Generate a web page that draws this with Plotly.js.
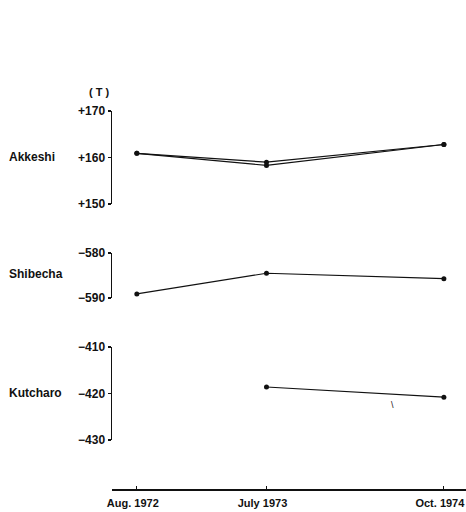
<!DOCTYPE html>
<html><head><meta charset="utf-8">
<script src="https://cdn.plot.ly/plotly-3.0.1.min.js"></script>
<style>html,body{margin:0;padding:0;background:#fff;}#chart{width:466px;height:512px;}</style>
</head><body><div id="chart"></div>
<script>
// ---- data ----
const dates = ["1972-08-15", "1973-07-15", "1974-10-15"];
const dateLabels = ["Aug. 1972", "July 1973", "Oct. 1974"];
const stations = ["Akkeshi", "Shibecha", "Kutcharo"];
const akkeshiA = [160.9, 159.0, 162.8];
const akkeshiB = [160.9, 158.3, 162.8];
const shibecha = [-589.1, -584.5, -585.7];
const kutcharo = [null, -418.6, -420.8];
const akkTicks = [150, 160, 170];
const akkTickText = ["+150", "+160", "+170"];
const shiTicks = [-590, -580];
const shiTickText = ["\u2212590", "\u2212580"];
const kutTicks = [-430, -420, -410];
const kutTickText = ["\u2212430", "\u2212420", "\u2212410"];
const unitLabel = "( T )";

const FONT = "Liberation Sans, Arial, sans-serif";
const line = {color: "#111", width: 1.2};
const marker = {color: "#111", size: 5};
function tr(y, ax) {
  return {x: dates, y: y, xaxis: "x", yaxis: ax, mode: "lines+markers",
          line: line, marker: marker, connectgaps: false, hoverinfo: "skip"};
}
const data = [
  tr(akkeshiA, "y"), tr(akkeshiB, "y"),
  tr(shibecha, "y2"),
  tr(kutcharo, "y3")
];

function yax(range, dom, tv, tt) {
  return {range: range, domain: dom, anchor: "x", showgrid: false, zeroline: false,
    showline: true, linecolor: "#111", linewidth: 1.5,
    tickmode: "array", tickvals: tv, ticktext: tt.map(s => "<b>" + s + "</b>"),
    ticks: "outside", ticklen: 3, tickcolor: "#111", tickwidth: 1.2,
    tickfont: {family: FONT, size: 12, color: "#111"}, fixedrange: true};
}
function capAx(range, dom, over, tv) {
  return {range: range, domain: dom, anchor: "x", overlaying: over, showgrid: false,
    zeroline: false, showline: false, tickmode: "array", tickvals: [tv[0], tv[tv.length-1]],
    ticks: "inside", ticklen: 3, tickcolor: "#111", tickwidth: 1.5, showticklabels: false};
}
const d1 = [0.7326, 0.9717], d2 = [0.4910, 0.6067], d3 = [0.1260, 0.3650];
function lab(text, x, y, size) {
  return {text: text, xref: "paper", yref: "paper", x: x, y: y, xanchor: "left", yanchor: "middle",
    showarrow: false, font: {family: FONT, size: size, color: "#111"}};
}
const layout = {
  width: 466, height: 512,
  margin: {l: 112, r: 0, t: 100, b: 23},
  paper_bgcolor: "#fff", plot_bgcolor: "rgba(0,0,0,0)",
  showlegend: false,
  font: {family: FONT, color: "#111"},
  xaxis: {type: "date", range: ["1972-06-12", "1974-12-11"], anchor: "free", position: 0,
    showgrid: false, zeroline: false, showline: true, linecolor: "#111", linewidth: 1.5,
    tickmode: "array", tickvals: dates, ticktext: dateLabels.map(s => "<b>" + s + "</b>"),
    ticks: "inside", ticklen: 3, tickcolor: "#111", tickwidth: 1.2, ticklabelstandoff: 3,
    ticklabelshift: -4, ticklabeloverflow: "allow",
    tickfont: {family: FONT, size: 11, color: "#111"}, fixedrange: true},
  yaxis: yax([150, 170], d1, akkTicks, akkTickText),
  yaxis2: yax([-590, -580], d2, shiTicks, shiTickText),
  yaxis3: yax([-430, -410], d3, kutTicks, kutTickText),
  yaxis4: capAx([150, 170], d1, "y", akkTicks),
  yaxis5: capAx([-590, -580], d2, "y2", shiTicks),
  yaxis6: capAx([-430, -410], d3, "y3", kutTicks),
  annotations: [
    Object.assign(lab("<b>" + unitLabel + "</b>", -0.036, 1.02, 11), {xanchor: "center"}),
    lab("<b>" + stations[0] + "</b>", -0.2966, 0.8535, 12),
    lab("<b>" + stations[1] + "</b>", -0.2966, 0.5527, 12),
    lab("<b>" + stations[2] + "</b>", -0.2966, 0.2468, 12),
    Object.assign(lab("\\", 0.793, 0.215, 9), {xanchor: "center"})
  ]
};
Plotly.newPlot("chart", data, layout, {staticPlot: true, displayModeBar: false});
</script>
</body></html>
